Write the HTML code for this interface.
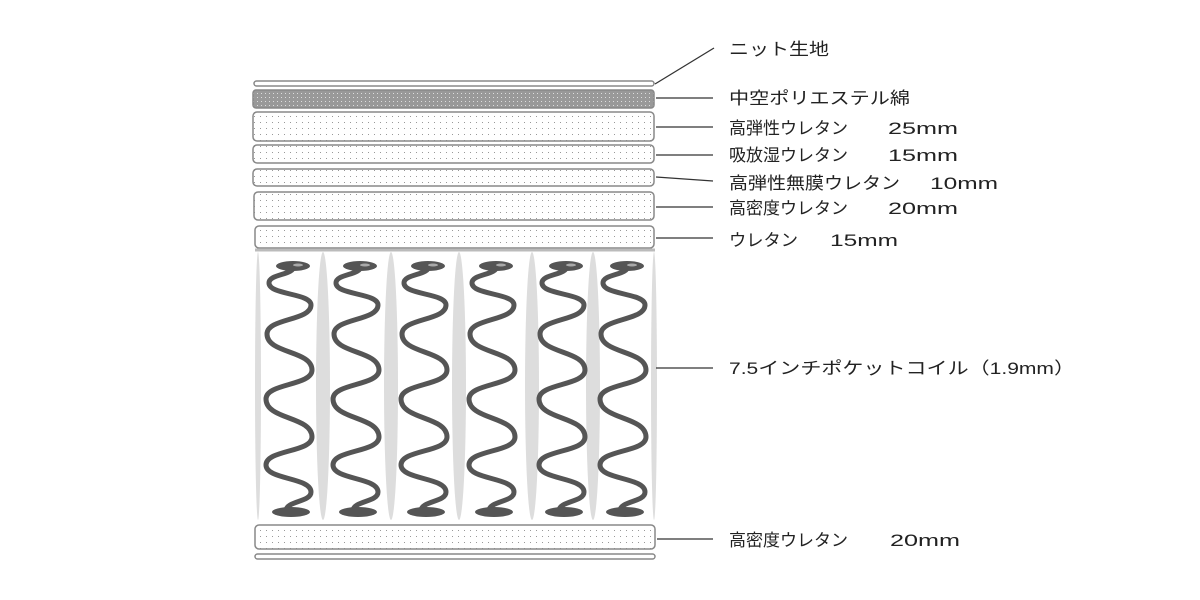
<!DOCTYPE html>
<html><head><meta charset="utf-8">
<style>
html,body{margin:0;padding:0;background:#fff;width:1200px;height:600px;overflow:hidden}
text{font-family:"Liberation Sans","Noto Sans CJK JP",sans-serif;font-size:17px;fill:#222}
</style></head><body>
<svg id="s" width="1200" height="600" viewBox="0 0 1200 600" xmlns="http://www.w3.org/2000/svg">
<defs>
<pattern id="dots" width="6" height="6" patternUnits="userSpaceOnUse">
<rect x="2" y="2" width="1" height="1" fill="#999"/>
</pattern>
<pattern id="gdots" width="4" height="4" patternUnits="userSpaceOnUse">
<rect width="4" height="4" fill="#999"/>
<rect x="1" y="1" width="1" height="1" fill="#ddd"/>
</pattern>
</defs>
<g stroke="#888" stroke-width="1.5">
<rect x="254" y="81" width="400" height="5" rx="2.5" fill="#fff"/>
<rect x="253" y="90" width="401" height="18" rx="3" fill="url(#gdots)"/>
<rect x="253" y="112" width="401" height="29" rx="4" fill="url(#dots)"/>
<rect x="253" y="145" width="401" height="18" rx="4" fill="url(#dots)"/>
<rect x="253" y="169" width="401" height="17" rx="4" fill="url(#dots)"/>
<rect x="254" y="192" width="400" height="28" rx="4" fill="url(#dots)"/>
<rect x="255" y="226" width="399" height="22" rx="4" fill="url(#dots)"/>
<rect x="255" y="525" width="400" height="24" rx="4" fill="url(#dots)"/>
<rect x="255" y="554" width="400" height="5" rx="2.5" fill="#fff"/>
</g>
<line x1="255" y1="250" x2="655" y2="250" stroke="#bbb" stroke-width="3"/>
<g id="coils"></g>
<g stroke="#333" stroke-width="1.3" fill="none">
<line x1="655" y1="84" x2="714" y2="48"/>
<line x1="656" y1="98" x2="713" y2="98"/>
<line x1="656" y1="127" x2="713" y2="127"/>
<line x1="656" y1="155" x2="713" y2="155"/>
<line x1="656" y1="177" x2="713" y2="181"/>
<line x1="656" y1="207" x2="713" y2="207"/>
<line x1="656" y1="238" x2="713" y2="238"/>
<line x1="656" y1="368" x2="713" y2="368"/>
<line x1="657" y1="539" x2="713" y2="539"/>
</g>
<text x="729" y="55" textLength="100" lengthAdjust="spacingAndGlyphs">ニット生地</text>
<text x="729" y="104" textLength="181" lengthAdjust="spacingAndGlyphs">中空ポリエステル綿</text>
<text x="729" y="134" textLength="119" lengthAdjust="spacingAndGlyphs">高弾性ウレタン</text><text x="888" y="134" textLength="70" lengthAdjust="spacingAndGlyphs">25mm</text>
<text x="729" y="161" textLength="119" lengthAdjust="spacingAndGlyphs">吸放湿ウレタン</text><text x="888" y="161" textLength="70" lengthAdjust="spacingAndGlyphs">15mm</text>
<text x="729" y="189" textLength="171" lengthAdjust="spacingAndGlyphs">高弾性無膜ウレタン</text><text x="930" y="189" textLength="68" lengthAdjust="spacingAndGlyphs">10mm</text>
<text x="729" y="214" textLength="119" lengthAdjust="spacingAndGlyphs">高密度ウレタン</text><text x="888" y="214" textLength="70" lengthAdjust="spacingAndGlyphs">20mm</text>
<text x="729" y="246" textLength="69" lengthAdjust="spacingAndGlyphs">ウレタン</text><text x="830" y="246" textLength="68" lengthAdjust="spacingAndGlyphs">15mm</text>
<text x="729" y="374" textLength="346" lengthAdjust="spacingAndGlyphs">7.5インチポケットコイル（1.9mm）</text>
<text x="729" y="546" textLength="119" lengthAdjust="spacingAndGlyphs">高密度ウレタン</text><text x="890" y="546" textLength="70" lengthAdjust="spacingAndGlyphs">20mm</text>
</svg>
<script>
var g=document.getElementById('coils'),h='';
[258,323,391,459,532,593,654].forEach(function(x){
h+='<ellipse cx="'+x+'" cy="386" rx="'+(x==258||x==654?3:7)+'" ry="134" fill="#ddd"/>';});
[290,357,425,493,563,624].forEach(function(c){
var pts=[[c+4,266],[c-21,283],[c+21,305],[c-23,334],[c+22,370],[c-24,399],[c+22,437],[c-24,465],[c+21,492],[c-4,511]];
var p='M'+pts[0][0]+' '+pts[0][1];
for(var i=1;i<pts.length;i++){var a=pts[i-1],b=pts[i],d=(b[1]-a[1])*0.55;
p+=' C'+a[0]+' '+(a[1]+d)+' '+b[0]+' '+(b[1]-d)+' '+b[0]+' '+b[1];}
h+='<path d="'+p+'" stroke="#555" stroke-width="5" fill="none" stroke-linecap="round"/>';
h+='<ellipse cx="'+(c+3)+'" cy="266" rx="17" ry="5" fill="#555"/><ellipse cx="'+(c+8)+'" cy="265" rx="5" ry="1.5" fill="#aaa"/>';
h+='<ellipse cx="'+(c+1)+'" cy="512" rx="19" ry="5" fill="#555"/>';
});
g.innerHTML=h;
</script>
</body></html>
